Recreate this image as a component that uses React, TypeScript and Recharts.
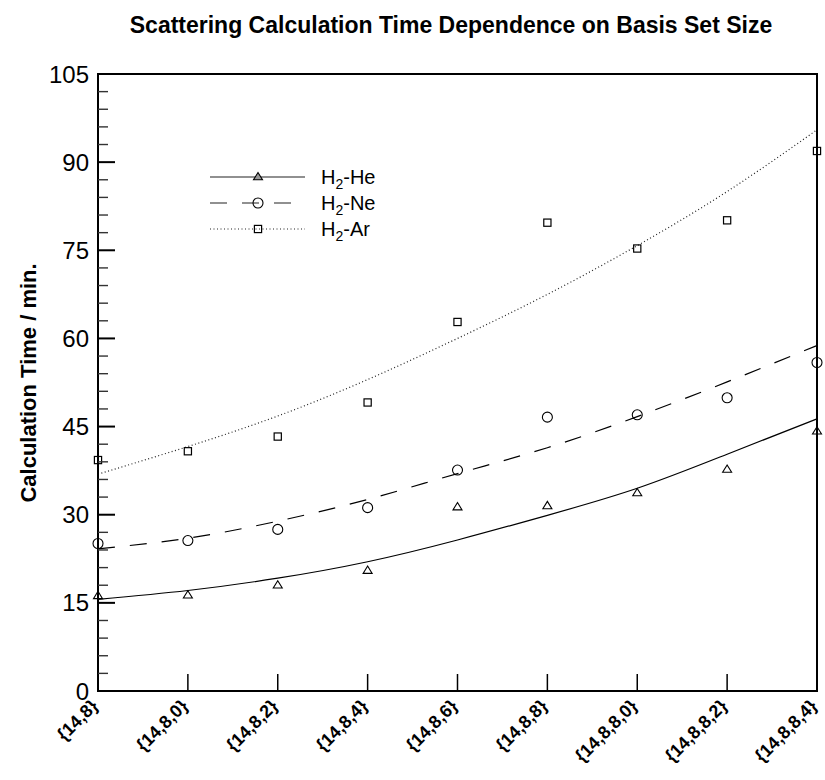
import React from 'react';
import { ComposedChart, Line, XAxis, YAxis, Legend, ReferenceArea, Customized, Label } from 'recharts';

const categories = ['{14,8}', '{14,8,0}', '{14,8,2}', '{14,8,4}', '{14,8,6}', '{14,8,8}', '{14,8,8,0}', '{14,8,8,2}', '{14,8,8,4}'];

// measured times (min.)
const heTimes = [16.2, 16.3, 18.0, 20.5, 31.3, 31.5, 33.7, 37.7, 44.2];
const neTimes = [25.1, 25.6, 27.5, 31.2, 37.6, 46.6, 47.0, 49.9, 55.9];
const arTimes = [39.3, 40.8, 43.3, 49.1, 62.8, 79.7, 75.3, 80.1, 91.9];

// fitted curves, read at each basis set
const heFit = [15.6, 17.1, 19.2, 22.0, 25.7, 29.9, 34.5, 40.3, 46.3];
const neFit = [24.2, 26.0, 28.9, 32.6, 37.0, 41.4, 46.7, 52.6, 58.8];
const arFit = [36.9, 41.6, 46.8, 53.0, 60.0, 67.5, 75.8, 85.0, 95.5];

const yTicks = [0, 15, 30, 45, 60, 75, 90, 105];
const yMinorStep = 3;

const FONT = '"Liberation Sans", Arial, Helvetica, sans-serif';

const chartData = categories.map((name, i) => ({
  name,
  he: heTimes[i],
  ne: neTimes[i],
  ar: arTimes[i],
  heFit: heFit[i],
  neFit: neFit[i],
  arFit: arFit[i],
}));

const allYTicks: number[] = [];
for (let v = yTicks[0]; v <= yTicks[yTicks.length - 1]; v += yMinorStep) allYTicks.push(v);

const Triangle = ({ cx, cy, fill = 'none' }: any) => (
  <path d={`M${cx},${cy - 4.5} L${cx + 4.5},${cy + 2.8} L${cx - 4.5},${cy + 2.8} Z`} fill={fill} stroke="#000" strokeWidth={1.1} />
);
const Circle = ({ cx, cy }: any) => <circle cx={cx} cy={cy} r={5} fill="none" stroke="#000" strokeWidth={1.1} />;
const Square = ({ cx, cy }: any) => (
  <rect x={cx - 3.6} y={cy - 3.6} width={7.2} height={7.2} fill="none" stroke="#000" strokeWidth={1.2} />
);

const dotOf = (Shape: any, id: string) => (props: any) => <Shape key={`${id}-${props.index}`} cx={props.cx} cy={props.cy} />;

const YTick = ({ x, y, payload }: any) => {
  const major = yTicks.includes(payload.value);
  return (
    <g>
      <line x1={x} x2={x + (major ? 17 : 10)} y1={y} y2={y} stroke={major ? '#000' : '#333'} strokeWidth={major ? 2 : 1.4} />
      {major && (
        <text x={x - 9} y={y + 8.5} textAnchor="end" fontSize={24} fontFamily={FONT} fill="#000">
          {payload.value}
        </text>
      )}
    </g>
  );
};

const XTick = ({ x, y, payload }: any) => {
  const i = categories.indexOf(payload.value);
  const inner = i > 0 && i < categories.length - 1;
  return (
    <g>
      {inner && <line x1={x} x2={x} y1={y} y2={y - 17} stroke="#000" strokeWidth={1.5} />}
      <text
        transform={`translate(${x + 1},${y + 16}) rotate(-45)`}
        textAnchor="end"
        fontSize={18}
        fontWeight="bold"
        fontFamily={FONT}
        fill="#000"
      >
        {payload.value}
      </text>
    </g>
  );
};

const legendRows = [
  { label: 'He', dash: undefined, marker: 'tri' },
  { label: 'Ne', dash: '17 15', marker: 'circ' },
  { label: 'Ar', dash: '1 2.5', marker: 'sq' },
];

const LegendBox = () => (
  <div style={{ fontFamily: FONT, fontSize: 20, color: '#000' }}>
    {legendRows.map((r) => (
      <div key={r.label} style={{ display: 'flex', alignItems: 'center', height: 26 }}>
        <svg width={111} height={26} style={{ display: 'block' }}>
          <line x1={0} x2={95} y1={13} y2={13} stroke="#222" strokeWidth={1.2} strokeDasharray={r.dash} />
          {r.marker === 'tri' && <Triangle cx={48} cy={13} fill="#999" />}
          {r.marker === 'circ' && <Circle cx={48} cy={13} />}
          {r.marker === 'sq' && <Square cx={48} cy={13} />}
        </svg>
        <span style={{ lineHeight: '26px' }}>
          H<sub style={{ fontSize: 14, verticalAlign: -5, lineHeight: 0 }}>2</sub>-{r.label}
        </span>
      </div>
    ))}
  </div>
);

const Title = () => (
  <text x={451} y={33} textAnchor="middle" fontSize={23} fontWeight="bold" fontFamily={FONT} fill="#000">
    Scattering Calculation Time Dependence on Basis Set Size
  </text>
);

export default function App() {
  return (
    <div style={{ position: 'absolute', left: 0, top: 0, width: 825, height: 780, background: '#fff' }}>
      <ComposedChart width={825} height={780} data={chartData} margin={{ top: 74, right: 8, bottom: 19, left: 38 }}>
        <Customized component={Title} />
        <XAxis
          dataKey="name"
          type="category"
          scale="point"
          padding={{ left: 0, right: 0 }}
          height={70}
          interval={0}
          tickSize={0}
          tickMargin={0}
          tickLine={false}
          axisLine={{ stroke: '#000', strokeWidth: 2 }}
          tick={XTick}
        />
        <YAxis
          type="number"
          domain={[0, 105]}
          ticks={allYTicks}
          interval={0}
          width={60}
          tickSize={0}
          tickMargin={0}
          tickLine={false}
          axisLine={{ stroke: '#000', strokeWidth: 2 }}
          tick={YTick}
        >
          <Label
            content={() => (
              <text
                transform="translate(36,383) rotate(-90)"
                textAnchor="middle"
                fontSize={22}
                fontWeight="bold"
                fontFamily={FONT}
                fill="#000"
              >
                Calculation Time / min.
              </text>
            )}
          />
        </YAxis>
        <ReferenceArea x1={categories[0]} x2={categories[categories.length - 1]} y1={0} y2={105} fill="none" stroke="#000" strokeWidth={2} />
        <Line dataKey="heFit" type="natural" stroke="#000" strokeWidth={1.2} dot={false} activeDot={false} isAnimationActive={false} legendType="none" />
        <Line dataKey="neFit" type="natural" stroke="#000" strokeWidth={1.2} strokeDasharray="17 15" dot={false} activeDot={false} isAnimationActive={false} legendType="none" />
        <Line dataKey="arFit" type="natural" stroke="#222" strokeWidth={1.2} strokeDasharray="1 2.5" dot={false} activeDot={false} isAnimationActive={false} legendType="none" />
        <Line dataKey="he" stroke="none" dot={dotOf(Triangle, 'he')} activeDot={false} isAnimationActive={false} legendType="none" />
        <Line dataKey="ne" stroke="none" dot={dotOf(Circle, 'ne')} activeDot={false} isAnimationActive={false} legendType="none" />
        <Line dataKey="ar" stroke="none" dot={dotOf(Square, 'ar')} activeDot={false} isAnimationActive={false} legendType="none" />
        <Legend
          layout="horizontal"
          verticalAlign="middle"
          align="center"
          content={LegendBox}
          wrapperStyle={{ left: 210, top: 164, width: 200, height: 80 }}
        />
      </ComposedChart>
    </div>
  );
}
